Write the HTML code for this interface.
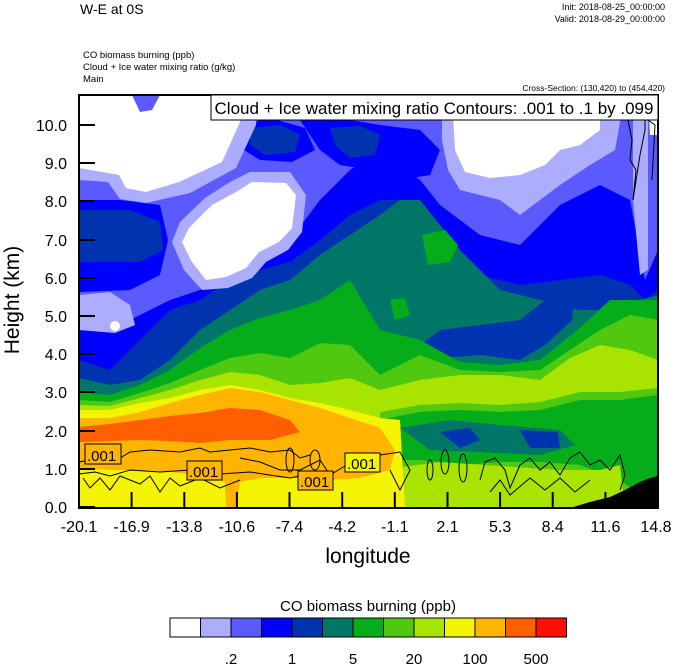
<!DOCTYPE html>
<html><head><meta charset="utf-8"><style>
html,body{margin:0;padding:0;background:#fff;}
svg{display:block;font-family:"Liberation Sans",Arial,sans-serif;}
</style></head><body>
<svg width="674" height="667" viewBox="0 0 674 667" xmlns="http://www.w3.org/2000/svg">
<defs><clipPath id="c"><rect x="79" y="95" width="579" height="413"/></clipPath></defs>
<g clip-path="url(#c)">
<rect x="79" y="95" width="579" height="413" fill="#5a5aff"/>
<polygon fill="#0000ff" points="79,330 110,330 140,315 170,300 200,290 230,270 260,250 290,240 320,200 350,170 380,150 400,165 420,180 440,205 480,235 520,245 560,205 600,185 630,200 645,280 658,250 658,508 79,508"/>
<polygon fill="#0000ff" points="79,200 120,200 160,205 168,240 160,275 130,290 79,292"/>
<polygon fill="#0000ff" points="240,125 270,118 305,128 315,150 292,162 260,160 244,150"/>
<polygon fill="#0000ff" points="300,120 350,120 380,125 420,130 440,150 430,175 400,180 370,170 340,165 320,150"/>
<polygon fill="#0033b0" points="79,360 110,370 140,340 170,310 200,300 230,280 260,270 290,262 320,240 350,215 380,200 400,200 440,230 480,275 520,285 560,280 600,275 630,285 645,300 658,290 658,508 79,508"/>
<polygon fill="#0033b0" points="79,210 130,210 160,222 163,250 140,262 79,262"/>
<polygon fill="#0033b0" points="250,128 280,125 300,135 295,152 265,155 250,145"/>
<polygon fill="#0033b0" points="330,128 360,126 380,135 375,155 350,158 335,145"/>
<polygon fill="#007666" points="79,378 110,385 140,380 170,360 200,330 230,310 260,290 290,280 320,255 350,235 380,215 400,200 420,200 460,250 500,290 540,300 580,310 610,310 640,300 658,295 658,508 79,508"/>
<polygon fill="#0033b0" points="420,345 440,330 480,325 520,320 545,300 575,290 572,320 545,345 520,360 480,355 440,358"/>
<polygon fill="#06ad1a" points="79,392 110,395 140,385 170,370 200,348 230,330 260,318 290,310 320,300 350,280 380,330 420,340 460,362 500,365 540,360 580,328 610,300 640,300 658,300 658,508 79,508"/>
<polygon fill="#06ad1a" points="422,235 445,230 458,245 450,262 428,265"/>
<polygon fill="#06ad1a" points="390,300 405,298 410,315 395,320"/>
<polygon fill="#50c80f" points="79,400 110,402 140,393 170,383 200,370 230,358 260,353 290,358 320,343 350,345 380,375 420,355 460,370 500,372 540,370 570,350 600,330 630,315 658,320 658,508 79,508"/>
<polygon fill="#a8e400" points="79,405 110,406 140,398 170,390 200,380 230,372 260,375 290,385 320,383 350,378 380,390 420,380 460,375 500,375 540,380 570,358 600,345 630,350 658,360 658,508 79,508"/>
<polygon fill="#50c80f" points="380,412 420,405 460,403 500,405 540,402 580,392 620,392 658,388 658,508 380,508"/>
<polygon fill="#06ad1a" points="380,420 420,412 460,410 500,412 540,410 580,400 620,400 658,395 658,508 620,480 580,465 540,462 500,462 460,465 420,460 380,460"/>
<polygon fill="#007666" points="400,428 450,420 500,425 560,430 575,445 540,455 480,452 430,450"/>
<polygon fill="#0033b0" points="440,432 470,428 480,440 460,448"/>
<polygon fill="#0033b0" points="520,430 558,432 560,448 530,448"/>
<polygon fill="#a8e400" points="380,470 440,462 500,466 560,470 600,470 620,465 625,508 380,508"/>
<polygon fill="#f4f400" points="79,410 110,410 140,403 170,398 200,390 230,385 260,390 290,398 320,403 350,410 380,418 400,420 405,508 79,508"/>
<polygon fill="#ffb400" points="79,418 110,418 140,412 170,403 200,395 230,388 260,392 290,400 320,408 350,418 380,428 395,450 390,470 360,478 330,480 300,478 260,478 240,482 236,508 226,508 225,482 200,475 170,472 140,470 110,470 79,468"/>
<polygon fill="#ff5f00" points="79,427 110,424 140,420 170,416 200,413 230,408 260,410 290,420 300,432 270,440 230,440 200,443 170,441 140,440 110,441 79,442"/>
<polygon fill="#adadff" points="79,95 258,95 256,125 236,168 190,193 146,203 120,199 108,182 79,180"/>
<polygon fill="#ffffff" points="79,95 242,95 240,122 222,162 179,182 146,192 126,188 119,175 79,168"/>
<polygon fill="#5a5aff" points="132,95 160,95 152,110 140,112"/>
<polygon fill="#adadff" points="250,172 290,172 306,195 302,232 288,250 266,262 252,278 228,288 202,290 184,270 172,242 180,222 205,198 230,182"/>
<polygon fill="#ffffff" points="252,182 286,183 296,195 292,228 279,242 259,252 246,268 226,277 206,280 192,262 182,242 189,228 212,205 236,192"/>
<polygon fill="#adadff" points="79,295 110,292 130,305 135,325 115,333 79,330"/>
<circle cx="115" cy="326" r="5" fill="#fff"/>
<polygon fill="#adadff" points="442,95 625,95 615,150 590,165 560,185 540,200 520,215 500,200 480,195 460,190 448,170 442,140"/>
<polygon fill="#ffffff" points="452,95 600,95 600,130 580,145 560,150 545,165 520,175 490,178 465,172 455,150"/>
<polygon fill="#adadff" points="633,95 648,95 648,270 640,275 633,200"/>
<polygon fill="#ffffff" points="648,95 658,95 658,135 650,135"/>
<polygon fill="#000" points="570,508 590,502 610,497 625,490 640,482 650,478 658,476 658,508"/>
<g fill="none" stroke="#000" stroke-width="1">
<polyline points="79,462 90,460 120,458 130,452 150,450 180,452 200,448 210,452 230,450 250,448 270,452 290,450 300,458 310,455"/>
<polyline points="79,474 95,472 110,476 130,470 160,472 190,470 220,474 250,472 290,478 300,476"/>
<polyline points="83,478 90,488 100,478 110,490 120,476 140,484 150,476 160,492 170,478 180,486 200,478 220,488 240,480"/>
<polyline points="240,458 260,462 280,470 300,470 320,460 330,475 345,466"/>
<polyline points="380,455 400,452 410,470 400,490 390,470"/>
<ellipse cx="290" cy="460" rx="4" ry="12"/>
<ellipse cx="315" cy="460" rx="5" ry="10"/>
<ellipse cx="430" cy="470" rx="3" ry="10"/>
<ellipse cx="445" cy="462" rx="4" ry="12"/>
<ellipse cx="463" cy="468" rx="4" ry="14"/>
<polyline points="480,480 485,462 495,458 505,470 510,488 520,465 530,458 540,470 550,462 560,475 570,458 580,452 590,465 600,460 610,470 620,455 625,475 620,490"/>
<polyline points="490,492 500,480 510,495 530,478 545,490 560,478 575,492 590,480"/>
<polyline points="628,120 632,140 630,160 636,170 633,200 640,155 645,130 645,95"/>
<polyline points="648,120 655,125 652,180"/>
</g>
<g stroke="#000" stroke-width="1">
<rect x="85" y="444" width="36" height="20" fill="#ffb400"/>
<rect x="187" y="461" width="35" height="19" fill="#ffb400"/>
<rect x="298" y="471" width="35" height="19" fill="#ffb400"/>
<rect x="345" y="453" width="35" height="19" fill="#f4f400"/>
</g>
<g font-size="15" fill="#000">
<text x="87" y="461">.001</text>
<text x="189" y="477">.001</text>
<text x="300" y="487">.001</text>
<text x="347" y="469">.001</text>
</g>
</g>
<rect x="79" y="95" width="579" height="413" fill="none" stroke="#000" stroke-width="2"/>
<rect x="211" y="95" width="447" height="25" fill="#fff" stroke="#000" stroke-width="1"/>
<text x="434" y="114" font-size="17" text-anchor="middle">Cloud + Ice water mixing ratio Contours: .001 to .1 by .099</text>
<g stroke="#000" stroke-width="2">
<line x1="79" y1="507" x2="95" y2="507"/><line x1="79" y1="469" x2="95" y2="469"/><line x1="79" y1="431" x2="95" y2="431"/><line x1="79" y1="392" x2="95" y2="392"/><line x1="79" y1="354" x2="95" y2="354"/><line x1="79" y1="316" x2="95" y2="316"/><line x1="79" y1="278" x2="95" y2="278"/><line x1="79" y1="240" x2="95" y2="240"/><line x1="79" y1="201" x2="95" y2="201"/><line x1="79" y1="163" x2="95" y2="163"/><line x1="79" y1="125" x2="95" y2="125"/>
<line x1="131.6" y1="508" x2="131.6" y2="492"/><line x1="184.3" y1="508" x2="184.3" y2="492"/><line x1="236.9" y1="508" x2="236.9" y2="492"/><line x1="289.5" y1="508" x2="289.5" y2="492"/><line x1="342.2" y1="508" x2="342.2" y2="492"/><line x1="394.8" y1="508" x2="394.8" y2="492"/><line x1="447.5" y1="508" x2="447.5" y2="492"/><line x1="500.1" y1="508" x2="500.1" y2="492"/><line x1="552.7" y1="508" x2="552.7" y2="492"/><line x1="605.4" y1="508" x2="605.4" y2="492"/>
</g>
<g font-size="16" text-anchor="end" fill="#000">
<text x="67" y="513">0.0</text><text x="67" y="475">1.0</text><text x="67" y="437">2.0</text><text x="67" y="398">3.0</text><text x="67" y="360">4.0</text><text x="67" y="322">5.0</text><text x="67" y="284">6.0</text><text x="67" y="246">7.0</text><text x="67" y="207">8.0</text><text x="67" y="169">9.0</text><text x="67" y="131">10.0</text>
</g>
<g font-size="16" text-anchor="middle" fill="#000">
<text x="79" y="532">-20.1</text><text x="131.6" y="532">-16.9</text><text x="184.3" y="532">-13.8</text><text x="236.9" y="532">-10.6</text><text x="289.5" y="532">-7.4</text><text x="342.2" y="532">-4.2</text><text x="394.8" y="532">-1.1</text><text x="447.5" y="532">2.1</text><text x="500.1" y="532">5.3</text><text x="552.7" y="532">8.4</text><text x="605.4" y="532">11.6</text><text x="656" y="532">14.8</text>
</g>
<text x="368" y="563" font-size="21" text-anchor="middle">longitude</text>
<text transform="translate(19,300) rotate(-90)" font-size="21" text-anchor="middle">Height (km)</text>
<text x="80" y="14" font-size="14">W-E at 0S</text>
<text x="665" y="10" font-size="9" text-anchor="end">Init: 2018-08-25_00:00:00</text>
<text x="665" y="22" font-size="9" text-anchor="end">Valid: 2018-08-29_00:00:00</text>
<text x="83" y="58" font-size="9.5">CO biomass burning   (ppb)</text>
<text x="83" y="70" font-size="9.5">Cloud + Ice water mixing ratio   (g/kg)</text>
<text x="83" y="82" font-size="9.5">Main</text>
<text x="665" y="91" font-size="8.5" text-anchor="end">Cross-Section: (130,420) to (454,420)</text>
<text x="368" y="611" font-size="15" text-anchor="middle">CO biomass burning  (ppb)</text>
<g stroke="#000" stroke-width="1">
<rect x="170" y="618" width="30.5" height="19" fill="#ffffff"/>
<rect x="200.5" y="618" width="30.5" height="19" fill="#adadff"/>
<rect x="231" y="618" width="30.5" height="19" fill="#5a5aff"/>
<rect x="261.5" y="618" width="30.5" height="19" fill="#0000ff"/>
<rect x="292" y="618" width="30.5" height="19" fill="#0033b0"/>
<rect x="322.5" y="618" width="30.5" height="19" fill="#007666"/>
<rect x="353" y="618" width="30.5" height="19" fill="#06ad1a"/>
<rect x="383.5" y="618" width="30.5" height="19" fill="#50c80f"/>
<rect x="414" y="618" width="30.5" height="19" fill="#a8e400"/>
<rect x="444.5" y="618" width="30.5" height="19" fill="#f4f400"/>
<rect x="475" y="618" width="30.5" height="19" fill="#ffb400"/>
<rect x="505.5" y="618" width="30.5" height="19" fill="#ff5f00"/>
<rect x="536" y="618" width="30.5" height="19" fill="#ff1000"/>
</g>
<g font-size="15" text-anchor="middle">
<text x="231" y="664">.2</text><text x="292" y="664">1</text><text x="353" y="664">5</text><text x="414" y="664">20</text><text x="475" y="664">100</text><text x="536" y="664">500</text>
</g>
</svg>
</body></html>
